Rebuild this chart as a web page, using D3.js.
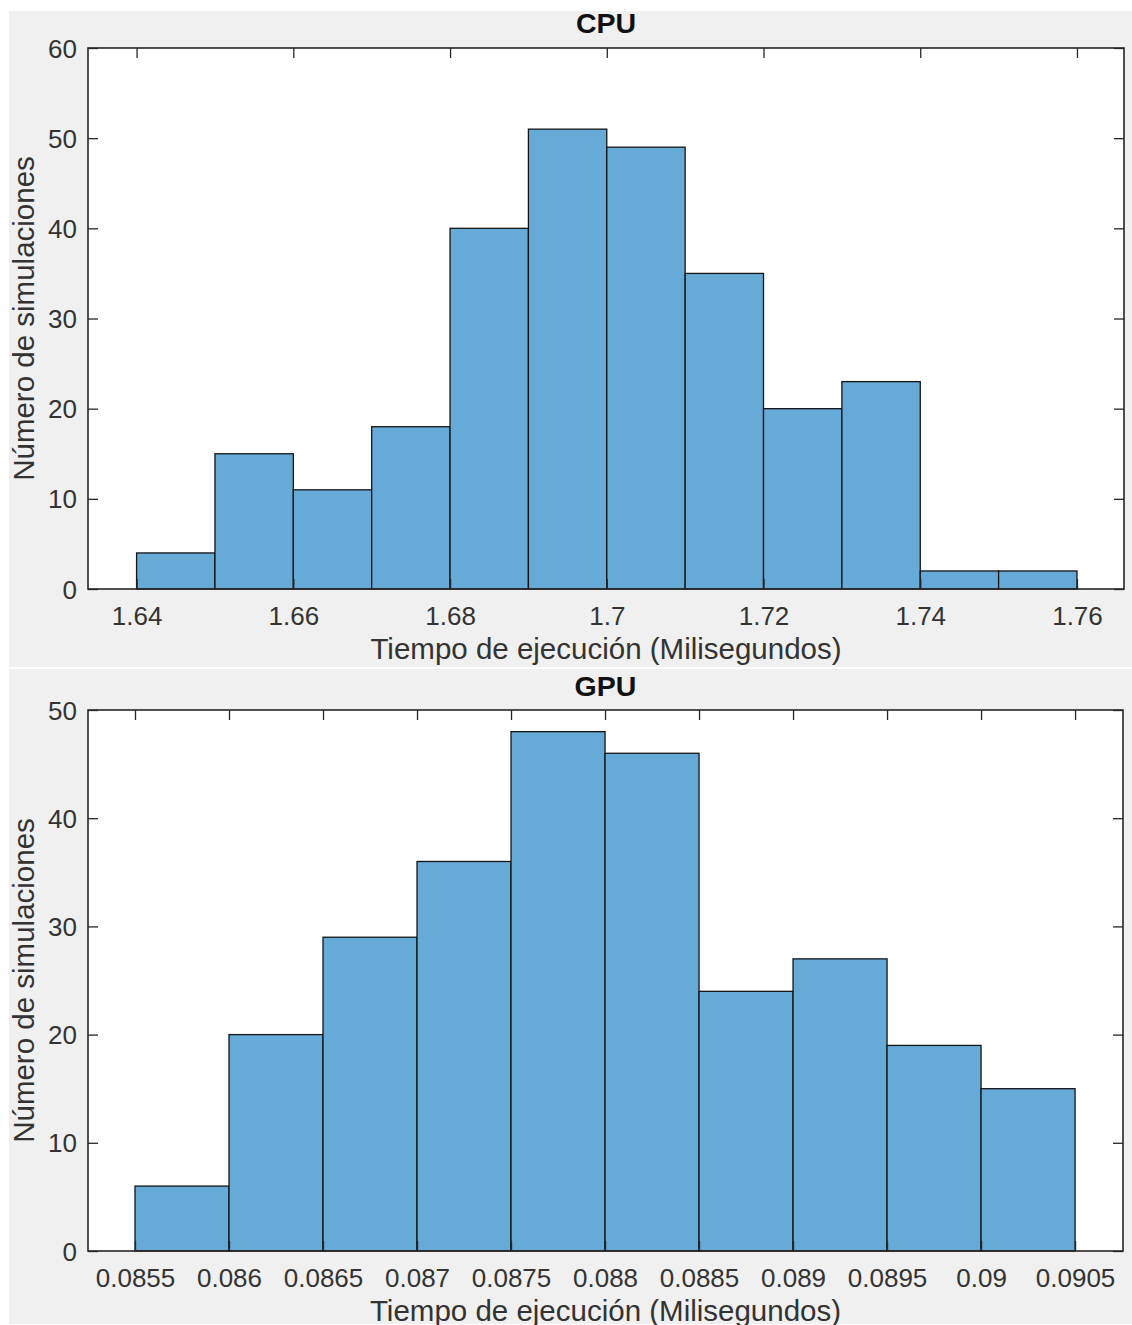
<!DOCTYPE html>
<html>
<head>
<meta charset="utf-8">
<script src="https://cdn.jsdelivr.net/npm/d3@7"></script>
<style>
  body { margin: 0; background: #fff; }
  svg { display: block; font-family: "Liberation Sans", Arial, sans-serif; }
  .axis path { display: none; }
  .axis line { stroke: #262626; stroke-width: 1.3; }
  .axis text { fill: #333; font-size: 26px; }
</style>
</head>
<body>
<script>
// bin edges and counts
var cpuEdges = [1.64, 1.65, 1.66, 1.67, 1.68, 1.69, 1.70, 1.71, 1.72, 1.73, 1.74, 1.75, 1.76];
var cpuCounts = [4, 15, 11, 18, 40, 51, 49, 35, 20, 23, 2, 2];
var cpuXTicks = [1.64, 1.66, 1.68, 1.70, 1.72, 1.74, 1.76];
var cpuXLabels = ["1.64", "1.66", "1.68", "1.7", "1.72", "1.74", "1.76"];
var cpuYTicks = [0, 10, 20, 30, 40, 50, 60];

var gpuEdges = [0.0855, 0.0860, 0.0865, 0.0870, 0.0875, 0.0880, 0.0885, 0.0890, 0.0895, 0.0900, 0.0905];
var gpuCounts = [6, 20, 29, 36, 48, 46, 24, 27, 19, 15];
var gpuXTicks = [0.0855, 0.0860, 0.0865, 0.0870, 0.0875, 0.0880, 0.0885, 0.0890, 0.0895, 0.0900, 0.0905];
var gpuXLabels = ["0.0855", "0.086", "0.0865", "0.087", "0.0875", "0.088", "0.0885", "0.089", "0.0895", "0.09", "0.0905"];
var gpuYTicks = [0, 10, 20, 30, 40, 50];

var xLabel = "Tiempo de ejecución (Milisegundos)";
var yLabel = "Número de simulaciones";

var W = 1132, H = 1325;
var barFill = "#66aad7";

var svg = d3.select("body").append("svg")
    .attr("width", W)
    .attr("height", H);

function drawPanel(p) {
    // grey figure background of this panel
    svg.append("rect")
        .attr("x", 9).attr("y", p.top)
        .attr("width", W - 9).attr("height", p.bottom - p.top)
        .attr("fill", "#f0f0f0");

    var g = svg.append("g")
        .attr("transform", "translate(" + p.left + "," + p.plotTop + ")");
    var w = p.right - p.left, h = p.plotBottom - p.plotTop;

    var x = d3.scaleLinear().domain(p.xDomain).range([0, w]);
    var y = d3.scaleLinear().domain(p.yDomain).range([h, 0]);

    g.append("rect")
        .attr("width", w).attr("height", h)
        .attr("fill", "#fff");

    var bins = p.counts.map(function(c, i) {
        return {x0: p.edges[i], x1: p.edges[i + 1], n: c};
    });

    g.selectAll("rect.bar")
        .data(bins)
        .enter().append("rect")
        .attr("class", "bar")
        .attr("x", function(d) { return x(d.x0); })
        .attr("y", function(d) { return y(d.n); })
        .attr("width", function(d) { return x(d.x1) - x(d.x0); })
        .attr("height", function(d) { return y(0) - y(d.n); })
        .attr("fill", barFill)
        .attr("stroke", "#141414")
        .attr("stroke-width", 1.3);

    var xAxis = d3.axisBottom(x)
        .tickValues(p.xTicks)
        .tickFormat(function(d, i) { return p.xLabels[i]; })
        .tickSizeInner(-10).tickSizeOuter(0);

    g.append("g")
        .attr("class", "axis")
        .attr("transform", "translate(0," + h + ")")
        .call(xAxis)
        .selectAll("text")
            .attr("y", 36).attr("dy", null)
            .attr("font-size", null);

    g.append("g")
        .attr("class", "axis")
        .call(d3.axisTop(x).tickValues(p.xTicks).tickFormat("")
            .tickSizeInner(-10).tickSizeOuter(0));

    var yAxis = d3.axisLeft(y)
        .tickValues(p.yTicks)
        .tickSizeInner(-10).tickSizeOuter(0);

    g.append("g")
        .attr("class", "axis")
        .call(yAxis)
        .selectAll("text")
            .attr("x", -11).attr("dy", "0.35em");

    g.append("g")
        .attr("class", "axis")
        .attr("transform", "translate(" + w + ",0)")
        .call(d3.axisRight(y).tickValues(p.yTicks).tickFormat("")
            .tickSizeInner(-10).tickSizeOuter(0));

    // box
    g.append("rect")
        .attr("width", w).attr("height", h)
        .attr("fill", "none")
        .attr("stroke", "#262626")
        .attr("stroke-width", 1.6);

    svg.append("text")
        .attr("x", (p.left + p.right) / 2)
        .attr("y", p.titleY)
        .attr("text-anchor", "middle")
        .attr("font-size", 28.5)
        .attr("font-weight", "bold")
        .attr("fill", "#111")
        .text(p.title);

    svg.append("text")
        .attr("x", (p.left + p.right) / 2)
        .attr("y", p.plotBottom + 70)
        .attr("text-anchor", "middle")
        .attr("font-size", 29.5)
        .attr("fill", "#333")
        .text(xLabel);

    svg.append("text")
        .attr("transform", "translate(34," + (p.plotTop + p.plotBottom) / 2 + ") rotate(-90)")
        .attr("text-anchor", "middle")
        .attr("font-size", 29.5)
        .attr("fill", "#333")
        .text(yLabel);
}

drawPanel({
    title: "CPU", top: 11, bottom: 667, titleY: 33,
    left: 88, right: 1124, plotTop: 48, plotBottom: 589,
    xDomain: [1.6338, 1.766], yDomain: [0, 60],
    edges: cpuEdges, counts: cpuCounts,
    xTicks: cpuXTicks, xLabels: cpuXLabels, yTicks: cpuYTicks
});

drawPanel({
    title: "GPU", top: 669, bottom: 1324, titleY: 696,
    left: 88, right: 1123, plotTop: 710, plotBottom: 1251,
    xDomain: [0.08525, 0.090755], yDomain: [0, 50],
    edges: gpuEdges, counts: gpuCounts,
    xTicks: gpuXTicks, xLabels: gpuXLabels, yTicks: gpuYTicks
});
</script>
</body>
</html>
